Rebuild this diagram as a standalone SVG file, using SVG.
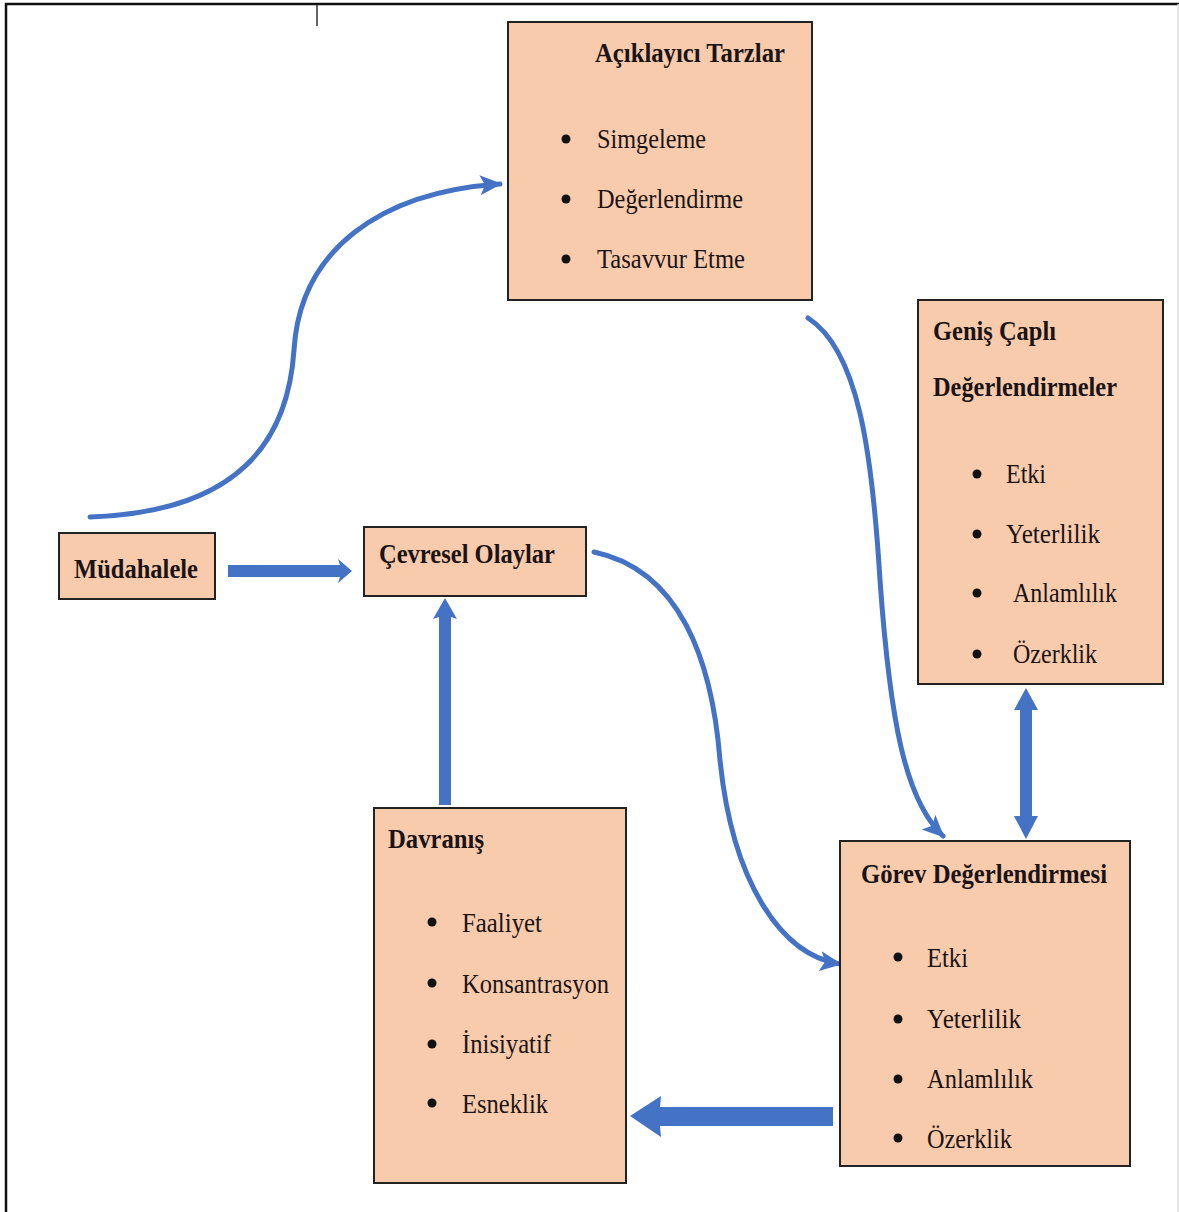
<svg xmlns="http://www.w3.org/2000/svg" width="1179" height="1212" viewBox="0 0 1179 1212">
  <defs>
    <style>
      .box { fill: #F8CBAD; stroke: #222; stroke-width: 2; }
      .title { font-family: "Liberation Serif", "Times New Roman", serif; font-weight: bold; font-size: 28px; fill: #1c1414; }
      .item { font-family: "Liberation Serif", "Times New Roman", serif; font-size: 28px; fill: #1c1414; }
      .dot { fill: #111; }
      .curve { fill: none; stroke: #4472C4; stroke-width: 5; stroke-linecap: round; }
      .thick { fill: #4472C4; }
    </style>
    <marker id="head" markerUnits="userSpaceOnUse" markerWidth="24" markerHeight="24" viewBox="0 0 24 24" refX="20" refY="12" orient="auto">
      <path d="M0,2 L22,12 L0,22 L5,12 Z" fill="#4472C4"/>
    </marker>
  </defs>

  <rect width="1179" height="1212" fill="#fff"/>

  <!-- page frame -->
  <g id="frame" fill="none">
    <path d="M6,1212 V4 H1179" stroke="#111" stroke-width="2.5"/>
    <line x1="1178" y1="4" x2="1178" y2="1212" stroke="#ddd" stroke-width="1.5"/>
    <line x1="317" y1="5" x2="317" y2="26" stroke="#333" stroke-width="1.5"/>
  </g>

  <!-- connectors -->
  <g id="connectors">
    <path class="curve" marker-end="url(#head)" d="M90,517 C240,512 288,440 294,350 C300,250 380,192 500,184"/>
    <path class="curve" marker-end="url(#head)" d="M808,318 C858,350 872,450 880,580 C890,720 905,800 943,836"/>
    <path class="curve" marker-end="url(#head)" d="M594,552 C680,570 712,660 720,760 C732,880 780,955 840,964"/>
    <!-- Müdahalele to Çevresel Olaylar -->
    <polygon class="thick" points="228,565 340,565 338,559 352,571 338,583 340,577 228,577"/>
    <!-- Davranış up to Çevresel Olaylar -->
    <polygon class="thick" points="439,805 439,617 433,619 445,598 457,619 451,617 451,805"/>
    <!-- Görev Değerlendirmesi to Davranış -->
    <polygon class="thick" points="833,1107 660,1107 661,1096 630,1116 661,1137 660,1126 833,1126"/>
    <!-- two-way link between the two evaluation boxes -->
    <polygon class="thick" points="1026,688 1038,710 1032,710 1032,816 1038,816 1026,839 1014,816 1020,816 1020,710 1014,710"/>
  </g>

  <g id="aciklayici">
    <rect class="box" x="508" y="22" width="304" height="278"/>
    <text class="title" x="595" y="62" textLength="190" lengthAdjust="spacingAndGlyphs">Açıklayıcı Tarzlar</text>
    <circle class="dot" cx="566" cy="139" r="4.5"/>
    <text class="item" x="597" y="148" textLength="109" lengthAdjust="spacingAndGlyphs">Simgeleme</text>
    <circle class="dot" cx="566" cy="199" r="4.5"/>
    <text class="item" x="597" y="208" textLength="146" lengthAdjust="spacingAndGlyphs">Değerlendirme</text>
    <circle class="dot" cx="566" cy="259" r="4.5"/>
    <text class="item" x="597" y="268" textLength="148" lengthAdjust="spacingAndGlyphs">Tasavvur Etme</text>
  </g>

  <g id="genis">
    <rect class="box" x="918" y="300" width="245" height="384"/>
    <text class="title" x="933" y="340" textLength="123" lengthAdjust="spacingAndGlyphs">Geniş Çaplı</text>
    <text class="title" x="933" y="396" textLength="184" lengthAdjust="spacingAndGlyphs">Değerlendirmeler</text>
    <circle class="dot" cx="977" cy="474" r="4.5"/>
    <text class="item" x="1006" y="483" textLength="40" lengthAdjust="spacingAndGlyphs">Etki</text>
    <circle class="dot" cx="977" cy="534" r="4.5"/>
    <text class="item" x="1006" y="543" textLength="94" lengthAdjust="spacingAndGlyphs">Yeterlilik</text>
    <circle class="dot" cx="977" cy="593" r="4.5"/>
    <text class="item" x="1013" y="602" textLength="104" lengthAdjust="spacingAndGlyphs">Anlamlılık</text>
    <circle class="dot" cx="977" cy="654" r="4.5"/>
    <text class="item" x="1013" y="663" textLength="84" lengthAdjust="spacingAndGlyphs">Özerklik</text>
  </g>

  <g id="mudahalele">
    <rect class="box" x="59" y="533" width="156" height="66"/>
    <text class="title" x="74" y="578" textLength="124" lengthAdjust="spacingAndGlyphs">Müdahalele</text>
  </g>

  <g id="cevresel">
    <rect class="box" x="364" y="527" width="222" height="69"/>
    <text class="title" x="379" y="563" textLength="176" lengthAdjust="spacingAndGlyphs">Çevresel Olaylar</text>
  </g>

  <g id="davranis">
    <rect class="box" x="374" y="808" width="252" height="375"/>
    <text class="title" x="388" y="848" textLength="96" lengthAdjust="spacingAndGlyphs">Davranış</text>
    <circle class="dot" cx="432" cy="922" r="4.5"/>
    <text class="item" x="462" y="932" textLength="80" lengthAdjust="spacingAndGlyphs">Faaliyet</text>
    <circle class="dot" cx="432" cy="983" r="4.5"/>
    <text class="item" x="462" y="993" textLength="147" lengthAdjust="spacingAndGlyphs">Konsantrasyon</text>
    <circle class="dot" cx="432" cy="1044" r="4.5"/>
    <text class="item" x="462" y="1053" textLength="89" lengthAdjust="spacingAndGlyphs">İnisiyatif</text>
    <circle class="dot" cx="432" cy="1103" r="4.5"/>
    <text class="item" x="462" y="1113" textLength="86" lengthAdjust="spacingAndGlyphs">Esneklik</text>
  </g>

  <g id="gorev">
    <rect class="box" x="840" y="841" width="290" height="325"/>
    <text class="title" x="861" y="883" textLength="246" lengthAdjust="spacingAndGlyphs">Görev Değerlendirmesi</text>
    <circle class="dot" cx="898" cy="957" r="4.5"/>
    <text class="item" x="927" y="967" textLength="41" lengthAdjust="spacingAndGlyphs">Etki</text>
    <circle class="dot" cx="898" cy="1019" r="4.5"/>
    <text class="item" x="927" y="1028" textLength="94" lengthAdjust="spacingAndGlyphs">Yeterlilik</text>
    <circle class="dot" cx="898" cy="1079" r="4.5"/>
    <text class="item" x="927" y="1088" textLength="106" lengthAdjust="spacingAndGlyphs">Anlamlılık</text>
    <circle class="dot" cx="898" cy="1138" r="4.5"/>
    <text class="item" x="927" y="1148" textLength="85" lengthAdjust="spacingAndGlyphs">Özerklik</text>
  </g>
</svg>
